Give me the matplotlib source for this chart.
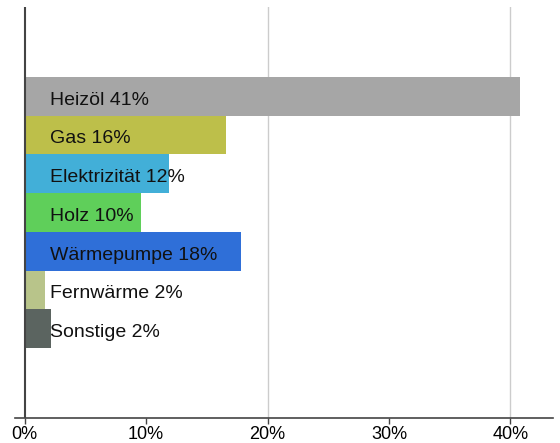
import matplotlib
matplotlib.use("Agg")
import matplotlib.pyplot as plt
from matplotlib.ticker import FuncFormatter

plt.rcParams['font.family'] = ['Liberation Sans', 'DejaVu Sans']

# data
categories = ['Heizöl', 'Gas', 'Elektrizität', 'Holz', 'Wärmepumpe', 'Fernwärme', 'Sonstige']
shares = [40.8, 16.6, 11.9, 9.6, 17.8, 1.7, 2.2]
labels = ['41%', '16%', '12%', '10%', '18%', '2%', '2%']
colors = ['#a6a6a6', '#bdbf4a', '#42afd8', '#5fcf5a', '#2f6fd8', '#b8c48a', '#5b6460']
xticks = [0, 10, 20, 30, 40]
gridlines = [20, 40]

fig = plt.figure(figsize=(5.6, 4.43), dpi=100)
ax = fig.add_axes([15 / 560, 25 / 443, 538 / 560, 411 / 443])

pos = list(range(len(categories)))
ax.barh(pos, shares, height=1.0, color=colors, zorder=2)

for i, (cat, lab) in enumerate(zip(categories, labels)):
    ax.text(2.05, i + 0.1, f'{cat} {lab}', va='center', ha='left', fontsize=14,
            color='#111111', zorder=3)

ax.set_xlim(-0.8, 43.5)
ax.set_ylim(8.3, -2.3)

ax.set_xticks(xticks)
ax.xaxis.set_major_formatter(FuncFormatter(lambda v, p: f'{v:.0f}%'))
ax.tick_params(axis='x', length=4, width=1, color='#444444', labelsize=13, pad=2)
ax.set_yticks([])

# grid lines
for t in gridlines:
    ax.axvline(t, color='#cccccc', lw=1, zorder=1)
ax.axvline(0, color='#444444', lw=1.5, zorder=4)

for s in ['top', 'right', 'left']:
    ax.spines[s].set_visible(False)
ax.spines['bottom'].set_color('#444444')
ax.spines['bottom'].set_linewidth(1.2)

fig.savefig('out.png', dpi=100)
